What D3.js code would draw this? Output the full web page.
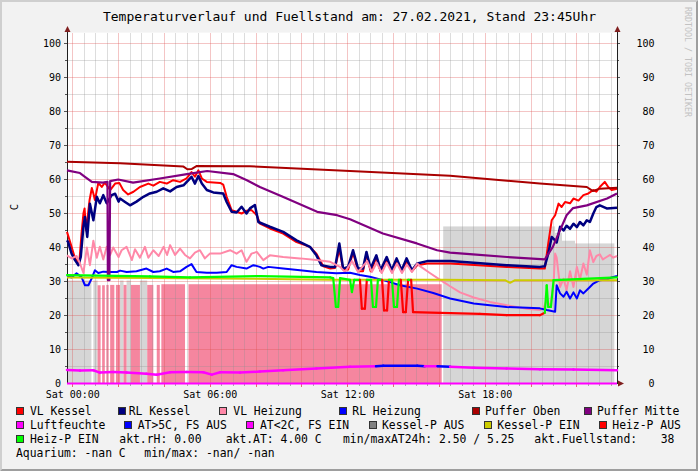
<!DOCTYPE html>
<html><head><meta charset="utf-8">
<script src="https://cdn.jsdelivr.net/npm/d3@7"></script>
<style>
body{margin:0;background:#f2f2f2}
svg{display:block}
text{font-family:"DejaVu Sans Mono",monospace;fill:#000}
</style>
</head><body>
<svg id="c" width="698" height="471"></svg>
<script>
// ---------- DATA (time in minutes since Sat 00:00, values in °C) ----------
const title = "Temperaturverlauf und Fuellstand am: 27.02.2021, Stand 23:45Uhr";
const timeDomain = [-15, 1425];
const yTicks = [0,10,20,30,40,50,60,70,80,90,100];
const xTickTimes = [0, 360, 720, 1080];
const xTickLabels = ["Sat 00:00","Sat 06:00","Sat 12:00","Sat 18:00"];

const vlKessel = [[-15,44.6],[-3,40.2],[6,36.8],[17,35.3],[23,44.0],[28,50.0],[31,51.5],[35,45.0],[44,53.9],[50,57.5],[54,55.9],[58,54.0],[67,59.0],[76,57.8],[84,59.1],[98,56.9],[111,58.8],[122,59.0],[132,56.9],[145,55.6],[159,56.4],[176,57.8],[198,58.8],[211,58.2],[228,59.3],[246,58.8],[263,59.8],[281,59.3],[298,60.3],[311,62.2],[320,60.8],[329,62.7],[338,60.3],[351,59.3],[386,59.0],[394,58.5],[403,54.9],[416,51.0],[429,50.5],[442,50.0],[455,50.8],[468,51.0],[482,49.5],[490,47.0],[516,45.6],[551,44.1],[586,41.6],[621,40.2],[638,38.2],[656,34.5],[674,33.8],[687,34.0],[698,39.5],[708,33.5],[721,33.5],[734,38.5],[747,33.0],[760,33.0],[769,38.0],[780,33.0],[795,37.0],[806,33.0],[822,36.5],[835,33.0],[848,36.0],[861,33.0],[874,36.0],[888,33.0],[902,34.8],[928,35.3],[988,35.3],[1136,34.3],[1223,33.8],[1236,33.8],[1245,41.2],[1254,48.0],[1263,49.5],[1272,52.9],[1280,51.9],[1289,53.4],[1302,53.0],[1311,54.4],[1324,53.8],[1337,55.4],[1350,55.9],[1363,56.9],[1371,56.4],[1380,57.8],[1393,59.3],[1402,57.8],[1411,56.9],[1425,57.3]];

const rlKessel = [[-15,42.1],[-12,41.6],[-3,38.2],[6,36.3],[15,34.8],[21,37.2],[28,46.1],[32,49.0],[38,43.1],[45,52.9],[54,48.0],[63,54.9],[71,53.0],[80,55.4],[89,53.0],[102,55.4],[111,55.8],[120,53.5],[124,54.4],[137,53.4],[150,52.4],[167,53.5],[185,54.9],[202,55.9],[220,56.4],[237,57.4],[255,56.5],[272,57.8],[290,58.3],[303,59.8],[311,60.8],[320,58.8],[329,61.0],[338,58.8],[351,56.9],[368,56.2],[394,55.9],[403,53.4],[416,50.5],[429,50.3],[442,52.0],[455,50.0],[464,51.5],[477,52.5],[486,47.5],[516,46.1],[551,44.6],[586,42.1],[621,40.2],[638,37.7],[651,34.8],[674,34.3],[687,34.3],[698,41.2],[708,33.8],[721,34.3],[734,39.2],[747,33.8],[760,33.8],[769,38.7],[780,33.8],[795,37.7],[806,33.3],[822,37.2],[835,33.3],[848,36.8],[861,33.3],[874,36.8],[888,33.3],[902,35.3],[928,36.0],[988,36.0],[1050,35.5],[1136,34.8],[1223,34.3],[1236,34.5],[1245,38.2],[1254,43.1],[1263,42.1],[1267,41.5],[1276,46.1],[1285,45.0],[1293,46.4],[1302,45.5],[1311,47.0],[1320,46.0],[1328,47.5],[1337,46.5],[1346,48.0],[1354,47.5],[1363,50.0],[1371,51.9],[1380,52.4],[1398,51.5],[1425,51.7]];

const vlHeizung = [[-15,37.7],[-3,36.8],[10,37.5],[19,35.3],[28,32.5],[37,40.0],[45,34.8],[54,42.0],[63,37.0],[71,40.2],[80,36.5],[89,40.2],[98,37.8],[106,40.0],[120,37.2],[128,39.2],[141,40.2],[155,36.3],[163,39.5],[176,37.0],[189,40.2],[198,37.0],[211,39.2],[225,37.5],[238,40.2],[247,37.8],[255,40.7],[268,37.8],[281,39.7],[294,37.8],[307,36.8],[320,38.5],[333,39.2],[346,36.8],[359,38.2],[386,38.2],[412,39.2],[429,38.2],[442,39.2],[455,35.8],[468,38.2],[482,38.7],[499,36.3],[516,37.7],[551,37.2],[595,36.8],[638,36.3],[674,35.8],[700,34.3],[713,32.8],[731,36.0],[747,32.8],[771,36.0],[783,32.8],[796,35.5],[809,32.5],[822,35.5],[836,32.5],[849,35.3],[862,32.5],[875,35.0],[888,32.8],[902,35.3],[909,34.5],[935,32.5],[962,30.5],[988,28.6],[1014,26.8],[1050,25.3],[1092,24.0],[1137,23.0],[1189,22.0],[1223,21.6],[1232,22.0],[1241,24.5],[1250,22.5],[1259,29.4],[1263,38.2],[1267,37.0],[1276,28.4],[1285,30.8],[1293,27.5],[1302,33.0],[1311,28.4],[1320,34.3],[1328,30.6],[1337,35.3],[1346,32.0],[1354,39.2],[1363,35.7],[1371,37.5],[1380,38.0],[1388,36.5],[1398,37.2],[1407,37.8],[1415,37.0],[1425,37.5]];

const rlHeizung = [[-15,31.6],[-3,31.2],[10,32.4],[23,31.3],[32,28.9],[41,28.9],[50,31.0],[58,33.3],[67,32.5],[80,32.9],[98,32.8],[116,32.8],[124,33.2],[141,32.8],[167,33.0],[193,33.8],[211,32.8],[228,33.0],[246,33.8],[263,32.8],[281,33.0],[298,34.3],[311,35.1],[324,32.8],[351,32.6],[377,32.6],[403,32.8],[416,34.8],[429,34.3],[455,33.8],[473,34.8],[490,34.3],[499,33.8],[512,34.3],[551,33.8],[595,33.3],[638,32.8],[690,32.4],[726,32.6],[752,31.9],[778,31.4],[813,30.4],[857,28.9],[902,27.9],[944,26.6],[988,25.0],[1050,23.5],[1092,23.0],[1136,22.5],[1223,22.1],[1241,21.6],[1263,21.1],[1267,28.9],[1276,26.5],[1285,25.5],[1293,27.0],[1302,25.0],[1311,26.8],[1320,25.0],[1328,27.4],[1337,26.5],[1346,27.5],[1354,28.4],[1363,29.4],[1380,30.4],[1398,30.6],[1411,31.2],[1425,31.6]];

const pufferOben = [[-15,65.2],[124,64.8],[290,63.8],[300,63.0],[312,63.1],[325,64.0],[464,63.9],[726,62.5],[988,61.1],[1223,58.8],[1346,57.8],[1362,56.6],[1380,57.3],[1425,57.6]];

const pufferMitte = [[-15,62.7],[19,61.9],[32,60.8],[50,59.3],[79,59.1],[91,59.3],[92,30.4],[96,30.4],[98,59.5],[119,60.0],[158,59.1],[228,60.3],[299,61.6],[352,62.5],[420,61.6],[456,59.8],[490,57.8],[550,54.9],[640,50.5],[692,49.5],[726,48.3],[812,44.1],[901,41.2],[954,39.2],[988,38.5],[1048,38.0],[1137,37.2],[1236,36.5],[1257,40.2],[1276,45.1],[1293,49.5],[1310,51.6],[1346,52.4],[1399,54.4],[1425,55.9]];

const luftfeuchte = [[-15,0],[1425,0]];

// Aussentemperatur: [t, value, state]  state 1 = AT>5C (blue), 0 = AT<2C/FS EIN (magenta)
const aussenTemp = [[-15,4.0,0],[19,3.8,0],[54,3.9,0],[71,3.2,0],[106,3.4,0],[141,3.2,0],[193,2.9,0],[220,2.6,0],[255,3.3,0],[298,3.4,0],[342,3.3,0],[364,2.6,0],[386,3.3,0],[438,3.2,0],[490,3.5,0],[551,3.9,0],[638,4.4,0],[726,4.9,0],[794,5.1,1],[813,5.2,1],[902,5.2,1],[922,5.1,0],[955,5.1,1],[988,4.9,0],[1050,4.6,0],[1136,4.4,0],[1223,4.2,0],[1311,4.1,0],[1425,3.9,0]];

// Kessel-Pumpe EIN (yellow line)
const kesselPEin = [[-15,31.2],[202,31.0],[464,30.8],[674,30.5],[962,30.5],[1132,30.4],[1145,29.6],[1158,30.4],[1425,30.4]];

// Heiz-Pumpe: [t, value, state] state 1 = EIN (green), 0 = AUS (red)
const heizPumpe = [[-15,31.9,1],[202,31.5,1],[307,31.2,1],[490,31.6,1],[674,31.2,1],[682,31.0,1],[689,22.5,1],[695,22.5,1],[700,31.0,1],[726,30.5,1],[731,26.9,1],[737,30.5,1],[752,30.5,0],[757,22,0],[765,22,0],[770,30.5,1],[781,30.5,1],[786,22.5,1],[794,22.5,1],[799,30.5,1],[810,30.5,0],[815,21.5,0],[823,21.5,0],[828,30.5,1],[836,30.5,1],[841,22.5,1],[849,22.5,1],[854,30.5,1],[859,30.5,0],[865,21,0],[872,21,0],[878,30.5,1],[886,30.5,0],[891,21,0],[962,20.8,0],[1066,20.5,0],[1136,20.1,0],[1223,20.1,0],[1236,20.8,1],[1241,28.9,1],[1245,22.5,1],[1252,22.5,1],[1259,30.4,1],[1276,30.5,1],[1425,31.2,1]];

// background areas: [start, end, level]
const kesselAusArea = [[-15,49,30.3],[54,65,30.3],[124,133,30.3],[141,152,30.3],[176,195,30.3],[970,1263,46.2],[1263,1281,44.3],[1281,1315,42.0],[1315,1418,41.2]];
const heizAusArea = [[65,73,28.9],[77,84,28.9],[88,94,29.0],[98,109,29.0],[113,124,29.0],[133,141,29.0],[152,176,29.0],[195,211,29.0],[220,228,29.0],[232,294,29.2],[303,966,29.2]];

const legendNames = ["VL Kessel","RL Kessel","VL Heizung","RL Heizung","Puffer Oben","Puffer Mitte","Luftfeuchte","AT>5C, FS AUS","AT<2C, FS EIN","Kessel-P AUS","Kessel-P EIN","Heiz-P AUS","Heiz-P EIN"];
const legendColors = ["#ff0000","#000080","#ff88a8","#0000ff","#aa0000","#800080","#ff00ff","#0000ff","#ff00ff","#808080","#cccc00","#ff0000","#00ff00"];
const infoTexts = ["akt.rH: 0.00","akt.AT: 4.00 C","min/maxAT24h: 2.50 / 5.25","akt.Fuellstand:","38","Aquarium: -nan C","min/max: -nan/ -nan"];

// ---------- DRAW ----------
const svg = d3.select("#c");
const W = 698, H = 471;
const L = 67, R = 617, B = 383.5;
const x = d3.scaleLinear().domain(timeDomain).range([L, R]);
const y = d3.scaleLinear().domain([0, 103.2]).range([B, B - 103.2 * 3.4]);
const T = y(103.2);

svg.append("rect").attr("width", W).attr("height", H).attr("fill", "#f2f2f2");
svg.append("path").attr("d", "M0,471L0,0L698,0L696,2L2,2L2,469Z").attr("fill", "#cfcfcf");
svg.append("path").attr("d", "M698,0L698,471L0,471L2,469L696,469L696,2Z").attr("fill", "#9e9e9e");

// canvas
svg.append("rect").attr("x", L).attr("y", T).attr("width", R - L).attr("height", B - T).attr("fill", "#fff");

// areas
const gA = svg.append("g");
gA.selectAll("rect.k").data(kesselAusArea).join("rect")
  .attr("x", d => x(d[0])).attr("width", d => x(d[1]) - x(d[0]))
  .attr("y", d => y(d[2])).attr("height", d => y(0) - y(d[2]))
  .attr("fill", "#d6d6d6");
gA.selectAll("rect.h").data(heizAusArea).join("rect")
  .attr("x", d => x(d[0])).attr("width", d => x(d[1]) - x(d[0]))
  .attr("y", d => y(d[2])).attr("height", d => y(0) - y(d[2]))
  .attr("fill", "#f5869f");

// grid
const gG = svg.append("g").attr("shape-rendering", "crispEdges");
const minorCol = "rgba(143,143,143,0.3)", majorCol = "rgba(222,79,79,0.33)";
const minorT = d3.range(0, timeDomain[1] + 1, 30);
minorT.forEach(t => {
  const major = t % 120 === 0;
  const px = Math.floor(x(t)) + 0.5;
  gG.append("line").attr("x1", px).attr("x2", px).attr("y1", T).attr("y2", B)
    .attr("stroke", major ? majorCol : minorCol).attr("stroke-width", 1);
  gG.append("line").attr("x1", px).attr("x2", px).attr("y1", B).attr("y2", B + (major ? 3 : 2))
    .attr("stroke", major ? "#e07070" : "#aaa");
});
d3.range(5, 101, 5).forEach(v => {
  const major = v % 10 === 0;
  const py = y(v);
  gG.append("line").attr("x1", L).attr("x2", R).attr("y1", py).attr("y2", py)
    .attr("stroke", major ? majorCol : minorCol).attr("stroke-width", 1);
  gG.append("line").attr("x1", L - (major ? 3 : 2)).attr("x2", L).attr("y1", py).attr("y2", py).attr("stroke", "#555");
  gG.append("line").attr("x1", R).attr("x2", R + (major ? 3 : 2)).attr("y1", py).attr("y2", py).attr("stroke", "#555");
});

// axes lines
const gX = svg.append("g").attr("shape-rendering", "crispEdges");
gX.append("line").attr("x1", L + 0.5).attr("x2", L + 0.5).attr("y1", B).attr("y2", 29).attr("stroke", "#1f1f1f");
gX.append("line").attr("x1", R + 0.5).attr("x2", R + 0.5).attr("y1", B).attr("y2", 29).attr("stroke", "#1f1f1f");
gX.append("line").attr("x1", L).attr("x2", R + 4).attr("y1", B).attr("y2", B).attr("stroke", "#1f1f1f");

// series
const line = d3.line().x(d => x(d[0])).y(d => y(d[1]));
function drawLine(data, color, w) {
  svg.append("path").datum(data).attr("d", line).attr("fill", "none")
    .attr("stroke", color).attr("stroke-width", w).attr("stroke-linejoin", "round");
}
function drawStateLine(data, colors, w) {
  for (let i = 0; i < data.length - 1; i++) {
    svg.append("path").datum([data[i], data[i + 1]]).attr("d", line).attr("fill", "none")
      .attr("stroke", colors[data[i][2]]).attr("stroke-width", w).attr("stroke-linecap", "round");
  }
}
drawLine(vlKessel, "#ff0000", 2);
drawLine(rlKessel, "#000080", 2.5);
drawLine(vlHeizung, "#ff88a8", 2);
drawLine(rlHeizung, "#0000ff", 2);
drawLine(pufferOben, "#aa0000", 2);
drawLine(pufferMitte, "#800080", 2.2);
drawLine(luftfeuchte, "#ff00ff", 2);
drawStateLine(aussenTemp, ["#ff00ff", "#0000ff"], 2.5);
drawLine(kesselPEin, "#cccc00", 2);
drawStateLine(heizPumpe, ["#ff0000", "#00ff00"], 2.2);

// arrows
svg.append("path").attr("d", `M${L + 0.5},26L${L - 2.5},32L${L + 3.5},32Z`).attr("fill", "#801f1f");
svg.append("path").attr("d", `M${R + 0.5},26L${R - 2.5},32L${R + 3.5},32Z`).attr("fill", "#801f1f");
svg.append("path").attr("d", `M624,${B}L618,${B - 3}L618,${B + 3}Z`).attr("fill", "#801f1f");

// tick labels
const gT = svg.append("g").style("font-size", "10px");
yTicks.forEach(v => {
  gT.append("text").attr("x", 61).attr("y", y(v) + 3.5).attr("text-anchor", "end").text(v);
  gT.append("text").attr("x", 654.5).attr("y", y(v) + 3.5).attr("text-anchor", "end").text(v);
});
xTickTimes.forEach((t, i) => {
  gT.append("text").attr("x", x(t)).attr("y", 397.5).attr("text-anchor", "middle").text(xTickLabels[i]);
});

// y label
svg.append("text").attr("transform", "translate(18.3,207) rotate(-90)").attr("text-anchor", "middle")
  .style("font-size", "10.5px").text("C");

// title
svg.append("text").attr("x", 349.5).attr("y", 21).attr("text-anchor", "middle").style("font-size", "13px").text(title);

// watermark
svg.append("text").attr("transform", "translate(685,7) rotate(90)").style("font-size", "8.3px")
  .style("fill", "#c2c2c2").text("RRDTOOL / TOBI OETIKER");

// legend
const legendLayout = [
  [16.3,30,415],[118.3,128.7,415],[219.3,233.3,415],[338.7,352.3,415],[472.3,485,415],[583.7,597,415],
  [16.3,30,429],[124.3,137.7,429],[246,260,429],[369.3,382,429],[484.3,497.3,429],[599.3,612.3,429],
  [16.3,30,443]
];
const gL = svg.append("g").style("font-size", "11.4px");
legendNames.forEach((n, i) => {
  const [sx, tx, by] = legendLayout[i];
  gL.append("rect").attr("x", Math.round(sx) + 0.5).attr("y", by - 7.5).attr("width", 7).attr("height", 7)
    .attr("fill", legendColors[i]).attr("stroke", "#333").attr("stroke-width", 1);
  gL.append("text").attr("x", tx).attr("y", by).text(n);
});
const infoLayout = [[119.3,443],[225.7,443],[343,443],[534.3,443],[660.7,443],[16,457],[144.3,457]];
infoTexts.forEach((s, i) => {
  gL.append("text").attr("x", infoLayout[i][0]).attr("y", infoLayout[i][1]).attr("xml:space", "preserve").text(s);
});
</script>
</body></html>
